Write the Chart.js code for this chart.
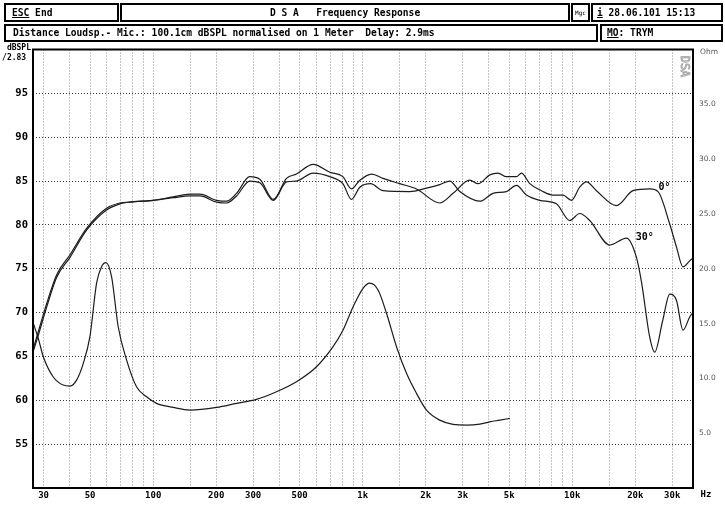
<!DOCTYPE html>
<html><head><meta charset="utf-8">
<script src="https://cdn.jsdelivr.net/npm/chart.js@4.4.1/dist/chart.umd.min.js"></script>
<style>
html,body{margin:0;padding:0;background:#fff;}
#wrap{position:relative;width:725px;height:506px;overflow:hidden;background:#fff;}
#c{position:absolute;left:0;top:0;}
.box{position:absolute;box-sizing:border-box;border:2px solid #000;font:bold 9.6px "DejaVu Sans Mono",monospace;color:#000;white-space:pre;display:flex;align-items:center;line-height:1;}
.small{font-size:6px;font-weight:normal;justify-content:center;}
.lbl{position:absolute;white-space:pre;}
</style></head><body>
<div id="wrap">
<canvas id="c" width="725" height="506"></canvas>
<div class="box" style="left:4px;top:3px;width:115px;height:19px;padding-left:6px"><u>ESC</u> End</div>
<div class="box" style="left:120px;top:3px;width:450px;height:19px;padding-left:148px">D S A   Frequency Response</div>
<div class="box small" style="left:571px;top:3px;width:19px;height:19px">Mgc</div>
<div class="box" style="left:591px;top:3px;width:132px;height:19px;padding-left:4px"><u>i</u> 28.06.101 15:13</div>
<div class="box" style="left:4px;top:24px;width:594px;height:18px;padding-left:7px">Distance Loudsp.- Mic.: 100.1cm dBSPL normalised on 1 Meter  Delay: 2.9ms</div>
<div class="box" style="left:600px;top:24px;width:123px;height:18px;padding-left:5px"><u>MO</u>: TRYM</div>
<div class="lbl" style="left:0px;top:43px;width:31px;text-align:right;font:bold 8px/10px 'DejaVu Sans Mono',monospace;color:#000">dBSPL<br>/2.83 </div>
<div class="lbl" style="left:700px;top:47px;font:7.5px/9px 'DejaVu Sans',sans-serif;color:#555">Ohm</div>
</div>
<script>
// ---- data ----
const freqGrid = [30,40,50,60,70,80,90,100,150,200,300,400,500,600,700,800,900,1000,1500,2000,3000,4000,5000,6000,7000,8000,9000,10000,15000,20000,30000];
const freqLabels = {30:'30',50:'50',100:'100',200:'200',300:'300',500:'500',1000:'1k',2000:'2k',3000:'3k',5000:'5k',10000:'10k',20000:'20k',30000:'30k'};

const freq0 = [26.7,27.8,31.0,34.6,40.1,48.1,59.9,69.4,77.4,100,124.6,149.7,167,200.7,224,250,289,323,374,433,483,580,697,804,884,969,1102,1251,1503,1806,2332,2700,3243,3553,4041,4426,4853,5416,5722,6270,7129,8095,9040,9912,10860,11690,13050,16250,19500,23430,25670,29190,31420,33780,36360,37700];
const spl0  = [65.5,66.8,70.6,74.0,76.3,79.4,81.7,82.4,82.6,82.8,83.2,83.5,83.5,82.8,82.7,83.6,85.5,85.2,82.9,85.3,85.8,86.9,86.0,85.5,84.1,85.1,85.8,85.3,84.7,84.1,82.5,83.6,85.1,84.7,85.7,85.9,85.5,85.5,85.9,84.7,83.9,83.4,83.4,82.8,84.3,84.9,83.9,82.2,83.9,84.1,83.8,80.1,77.5,75.2,75.9,76.2];

const freq30 = [26.7,27.8,31.0,34.6,40.1,48.1,59.9,69.4,77.4,100,124.6,149.7,167,200.7,224,250,289,323,374,433,483,580,697,804,884,969,1091,1251,1678,2016,2332,2604,2906,3621,4191,4853,5416,6046,6998,8405,9728,10860,12120,15100,18140,20250,21400,23430,24750,27030,29190,31420,33780,36360,37700];
const spl30  = [65.8,67.2,71.0,74.3,76.6,79.6,81.9,82.5,82.6,82.8,83.1,83.3,83.3,82.6,82.5,83.3,85.0,84.8,82.8,84.9,85.0,85.9,85.5,84.7,82.9,84.3,84.7,83.9,83.8,84.2,84.6,85.0,83.8,82.7,83.6,83.8,84.5,83.4,82.8,82.4,80.5,81.3,80.5,77.7,78.5,76.3,73.5,67.2,65.5,69.1,72.1,71.4,68.0,69.5,70.0];

const freqZ = [26.7,28.3,29.9,33.3,37.2,40.1,43.1,46.4,49.9,53.7,56.7,59.5,63.3,68.1,74.7,83.3,93.0,103.8,124.6,149.7,200.7,250,311,388,483,602,722,806,900,1004,1081,1184,1299,1450,1618,1806,2016,2332,2700,3128,3621,4041,4510,5033];
const ohmZ  = [15.1,13.65,11.97,10.15,9.39,9.3,9.84,11.37,13.8,18.68,20.19,20.56,19.28,14.71,11.67,9.23,8.32,7.72,7.35,7.11,7.35,7.72,8.08,8.78,9.69,11.06,12.89,14.41,16.54,18.22,18.68,18.06,15.94,12.89,10.46,8.63,7.1,6.19,5.8,5.74,5.83,6.04,6.19,6.35];

const curveLabels = [{text:'0°', f:27600, db:84.3}, {text:'30°', f:22200, db:78.6}];

const pts = (xs, ys) => xs.map((x, i) => ({x, y: ys[i]}));

const MONO = '"DejaVu Sans Mono", monospace';

const overlay = {
  id: 'overlay',
  afterDraw(chart) {
    const ctx = chart.ctx, ca = chart.chartArea;
    const xs = chart.scales.x, ys = chart.scales.y;
    ctx.save();
    ctx.strokeStyle = '#000';
    ctx.lineWidth = 2;
    ctx.strokeRect(ca.left, ca.top, ca.right - ca.left, ca.bottom - ca.top);
    ctx.fillStyle = '#000';
    ctx.font = 'bold 9px ' + MONO;
    ctx.textAlign = 'center';
    ctx.textBaseline = 'middle';
    ctx.fillText('Hz', ca.right + 13, ca.bottom + 7);
    ctx.font = 'bold 10px ' + MONO;
    curveLabels.forEach(l => {
      ctx.fillText(l.text, xs.getPixelForValue(l.f), ys.getPixelForValue(l.db));
    });
    ctx.translate(ca.right - 9, ca.top + 17);
    ctx.rotate(Math.PI / 2);
    ctx.strokeStyle = '#9a9a9a';
    ctx.lineWidth = 0.8;
    ctx.font = '12px ' + MONO;
    ctx.strokeText('DSA', 0, 0);
    ctx.restore();
  }
};

const line = (data, axis) => ({
  data, yAxisID: axis, borderColor: '#1c1c1c', borderWidth: 1.2,
  pointRadius: 0, fill: false, cubicInterpolationMode: 'monotone'
});

new Chart(document.getElementById('c'), {
  type: 'line',
  data: {
    datasets: [
      line(pts(freq0, spl0), 'y'),
      line(pts(freq30, spl30), 'y'),
      line(pts(freqZ, ohmZ), 'y2')
    ]
  },
  options: {
    responsive: false,
    animation: false,
    devicePixelRatio: 1,
    layout: { padding: { top: 49.5, left: 0, right: 0, bottom: 0 } },
    plugins: { legend: { display: false }, tooltip: { enabled: false } },
    scales: {
      x: {
        type: 'logarithmic', min: 26.7, max: 37700, bounds: 'data',
        afterBuildTicks: s => { s.ticks = freqGrid.map(v => ({ value: v })); },
        afterFit: s => { s.height = 18; },
        ticks: {
          autoSkip: false, maxRotation: 0, minRotation: 0, padding: 2,
          color: '#000', font: { family: MONO, size: 9, weight: 'bold' },
          callback: v => freqLabels[v] || ''
        },
        grid: { color: '#8a8a8a', lineWidth: 1, drawTicks: false },
        border: { display: false, dash: [1, 2] }
      },
      y: {
        type: 'linear', position: 'left', min: 50, max: 100,
        afterFit: s => { s.width = 33; },
        ticks: {
          stepSize: 5, padding: 5, color: '#000',
          font: { family: MONO, size: 10.5, weight: 'bold' },
          callback: v => (v === 100 || v === 50) ? '' : String(v)
        },
        grid: {
          drawTicks: false, lineWidth: 1,
          color: c => (c.tick && (c.tick.value === 50 || c.tick.value === 100)) ? 'rgba(0,0,0,0)' : '#3a3a3a'
        },
        border: { display: false, dash: [1, 2] }
      },
      y2: {
        type: 'linear', position: 'right', min: 0, max: 40,
        afterFit: s => { s.width = 32; },
        ticks: {
          stepSize: 5, padding: 6, color: '#555',
          font: { family: '"DejaVu Sans", sans-serif', size: 7.5 },
          callback: v => (v === 40 || v === 0) ? '' : v.toFixed(1)
        },
        grid: { drawOnChartArea: false, drawTicks: false },
        border: { display: false }
      }
    }
  },
  plugins: [overlay]
});
</script>
</body></html>
